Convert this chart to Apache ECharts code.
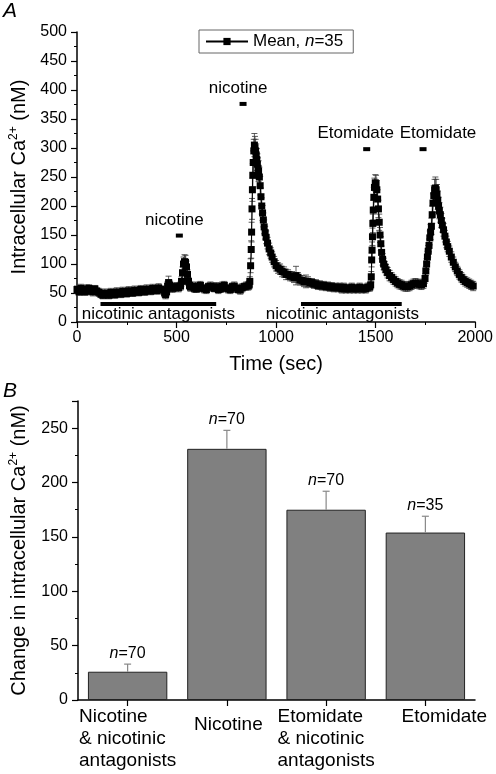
<!DOCTYPE html>
<html><head><meta charset="utf-8">
<script src="https://cdn.jsdelivr.net/npm/echarts@6/dist/echarts.min.js"></script>
<style>html,body{margin:0;padding:0;background:#fff}#c{width:496px;height:774px}</style>
</head><body><div id="c"></div><script>
// ---------- Panel A data (time course, mean ± SEM) ----------
const timeSec = [
  0,10,20,30,40,50,60,70,80,90,100,110,120,130,140,150,160,170,180,190,200,210,220,230,240,250,260,270,280,290,300,310,320,330,340,350,360,370,380,390,400,410,420,430,
  440,445,450,455,460,465,470,480,490,500,510,520,525,530,535,540,545,550,555,560,565,570,
  580,590,600,610,620,630,640,650,660,670,680,690,700,710,720,730,740,750,760,770,780,790,800,810,820,830,840,850,860,
  865,868,872,875,877,879,881,883,885,888,891,894,897,900,903,906,909,912,916,920,924,928,932,936,940,945,950,957,965,973,980,990,1000,
  1010,1020,1030,1040,1050,1060,1070,1080,1090,1100,1110,1120,1130,1140,1150,1160,1170,1180,1190,1200,1210,1220,1230,1240,1250,1260,1270,1280,1290,1300,1310,1320,1330,1340,1350,1360,1370,1380,1390,1400,1410,1420,1430,1440,1450,1460,1470,
  1475,1478,1480,1482,1484,1486,1488,1491,1494,1498,1502,1506,1510,1514,1518,1522,1526,1530,1535,1540,1546,1552,1560,1570,1580,1590,1600,1610,1620,1630,1640,1650,1660,1670,1680,1690,1700,1710,1720,1730,1740,
  1748,1752,1756,1760,1764,1768,1772,1776,1780,1784,1788,1792,1796,1800,1804,1808,1812,1816,1820,1825,1830,1835,1841,1848,1855,1862,1870,1880,1890,1900,1910,1920,1930,1940,1950,1960,1970,1980,1990
];
const meanCa = [
  56,52,58,55,52,57,58,53,52,57,53,51,48,46,50,48,46,51,49,47,52,50,48,53,51,49,54,52,50,55,53,51,56,54,52,57,55,53,58,56,54,59,56,55,
  50,47,52,62,68,64,60,58,60,61,59,62,70,85,100,104,103,95,82,70,63,60,
  62,58,57,62,63,58,57,56,61,62,60,58,61,56,57,62,63,58,57,56,61,62,58,56,55,59,61,62,62,
  64,70,97,125,155,195,228,253,275,295,305,300,295,288,280,272,265,260,250,235,216,200,188,176,164,154,146,136,126,119,112,104,97,
  93,91,87,86,82,82,79,79,76,80,77,72,72,69,70,70,67,68,65,66,63,64,62,63,61,62,60,61,59,60,59,60,57,60,57,58,57,60,57,58,57,60,57,58,57,60,60,
  64,78,107,124,147,170,193,215,232,240,238,228,212,195,172,150,135,120,108,100,95,90,85,80,77,73,70,67,65,64,62,61,61,62,64,66,67,66,65,64,66,
  75,88,100,112,122,132,145,155,165,185,205,218,228,231,228,220,210,200,192,185,175,167,159,148,138,130,122,112,103,95,88,82,77,73,70,68,66,64,62
];
const semCa = [
  6,6,7,6,6,7,6,6,7,6,6,7,6,6,7,6,6,7,6,6,7,6,6,7,6,6,7,6,6,7,6,6,7,6,6,7,6,6,7,6,6,7,6,7,
  7,7,7,8,11,8,7,7,7,7,7,7,8,10,12,12,12,10,8,7,7,7,
  7,7,6,7,7,6,7,7,6,7,7,6,7,7,6,7,7,6,7,7,6,7,7,6,7,7,6,7,7,
  7,8,12,15,17,18,20,20,20,20,20,20,20,19,19,18,18,18,17,16,15,14,13,12,12,11,11,10,10,9,9,9,9,
  9,9,9,9,9,8,8,8,8,16,8,8,8,8,11,8,7,7,7,7,7,7,7,7,7,7,7,7,7,7,7,7,7,7,7,7,7,7,7,7,7,7,7,7,7,7,7,
  7,9,12,14,15,16,17,17,16,14,15,16,16,15,14,13,12,11,10,10,9,9,9,9,8,8,8,8,8,8,8,8,8,8,8,8,8,8,8,8,8,
  8,8,9,10,10,11,12,13,14,15,16,17,18,19,18,17,16,15,14,13,12,12,11,10,10,9,9,9,9,8,8,8,8,8,8,8,8,8,8
];
const stimTimes  = [514, 834, 1455, 1738];
const stimLevels = [149, 376, 298, 298];
const stimNames  = ['nicotine', 'nicotine', 'Etomidate', 'Etomidate'];
const antagStart = [118, 1125];
const antagEnd   = [699, 1631];
const antagLevel = [31, 31];
const antagName  = 'nicotinic antagonists';
const xTicksA = [0, 500, 1000, 1500, 2000];
const yTicksA = [0, 50, 100, 150, 200, 250, 300, 350, 400, 450, 500];

// ---------- Panel B data ----------
const categories = ['Nicotine\n& nicotinic\nantagonists', 'Nicotine', 'Etomidate\n& nicotinic\nantagonists', 'Etomidate'];
const barValues  = [26, 231, 175, 154];
const barErrors  = [7, 17, 17, 15];
const barN       = ['70', '70', '70', '35'];
const yTicksB = [0, 50, 100, 150, 200, 250];

// ---------- styling ----------
const FONT = 'Liberation Sans, Arial, Helvetica, sans-serif';
const stimLabelDx = [-5, -5, -11, 15];
const catShift = [0, 3, 0, 38];

const axisCommon = {
  axisLine: {show: true, lineStyle: {color: '#000', width: 1.5}},
  axisTick: {show: true, inside: false, length: 6, lineStyle: {color: '#000', width: 1.2}},
  minorTick: {show: true, splitNumber: 2, length: 3, lineStyle: {color: '#000', width: 1}},
  splitLine: {show: false}
};
const nameRich = {
  a: {fontSize: 20, fontFamily: FONT, color: '#000'},
  s: {fontSize: 12, fontFamily: FONT, color: '#000', padding: [0, 0, 10, 0]}
};
const plain = v => String(v);

const chart = echarts.init(document.getElementById('c'), null, {renderer: 'canvas'});
const option = {
  animation: false,
  backgroundColor: '#fff',
  textStyle: {fontFamily: FONT},
  graphic: [
    {type: 'text', left: 3, top: 1, style: {text: 'A', font: 'italic 21px ' + FONT, fill: '#000'}},
    {type: 'text', left: 3, top: 381, style: {text: 'B', font: 'italic 21px ' + FONT, fill: '#000'}}
  ],
  legend: {
    data: ['Mean'],
    left: 199, top: 30,
    padding: [3, 10, 3, 6],
    borderColor: '#666', borderWidth: 1,
    itemWidth: 42, itemHeight: 9, itemGap: 5,
    formatter: () => '{a|Mean, }{i|n}{a|=35}',
    textStyle: {
      rich: {
        a: {fontSize: 17, fontFamily: FONT, color: '#000'},
        i: {fontSize: 17, fontFamily: FONT, color: '#000', fontStyle: 'italic'}
      }
    }
  },
  grid: [
    {left: 72, right: 17, top: 32, height: 290},
    {left: 72, right: 21, top: 401, height: 299}
  ],
  xAxis: [
    Object.assign({}, axisCommon, {
      gridIndex: 0, type: 'value', min: xTicksA[0], max: xTicksA[xTicksA.length - 1], interval: xTicksA[1] - xTicksA[0],
      name: 'Time (sec)', nameLocation: 'middle', nameGap: 32,
      nameTextStyle: {fontSize: 20, fontFamily: FONT, color: '#000'},
      axisLabel: {color: '#000', fontSize: 16, fontFamily: FONT, margin: 8, formatter: plain}
    }),
    {
      gridIndex: 1, type: 'category',
      data: categories.map((c, i) => ({value: c, textStyle: {padding: [i === 1 ? 8 : 0, 0, 0, catShift[i]]}})),
      axisLine: {show: true, lineStyle: {color: '#000', width: 1.5}},
      axisTick: {show: true, alignWithLabel: true, length: 6, lineStyle: {color: '#000', width: 1.2}},
      splitLine: {show: false},
      axisLabel: {
        margin: 6, interval: 0,
        formatter: v => v.split('\n').map(l => '{l|' + l + '}').join('\n'),
        rich: {l: {fontSize: 19, lineHeight: 22, fontFamily: FONT, color: '#000', align: 'left'}}
      }
    }
  ],
  yAxis: [
    Object.assign({}, axisCommon, {
      gridIndex: 0, type: 'value', min: yTicksA[0], max: yTicksA[yTicksA.length - 1], interval: yTicksA[1] - yTicksA[0],
      name: '{a|Intracellular Ca}{s|2+}{a| (nM)}', nameLocation: 'middle', nameGap: 47,
      nameTextStyle: {rich: nameRich},
      axisLabel: {color: '#000', fontSize: 16, fontFamily: FONT, margin: 10, formatter: plain}
    }),
    Object.assign({}, axisCommon, {
      gridIndex: 1, type: 'value', min: 0, max: 275, interval: yTicksB[1] - yTicksB[0],
      name: '{a|Change in intracellular Ca}{s|2+}{a| (nM)}', nameLocation: 'middle', nameGap: 48,
      nameTextStyle: {rich: nameRich},
      axisLabel: {color: '#000', fontSize: 16, fontFamily: FONT, margin: 10, showMaxLabel: false, formatter: plain}
    })
  ],
  series: [
    {
      type: 'custom', xAxisIndex: 0, yAxisIndex: 0, silent: true, z: 2,
      data: timeSec.map((t, i) => [t, meanCa[i] - semCa[i], meanCa[i] + semCa[i]]),
      renderItem: (params, api) => {
        const lo = api.coord([api.value(0), api.value(1)]);
        const hi = api.coord([api.value(0), api.value(2)]);
        const st = {stroke: '#333', lineWidth: 0.8};
        return {type: 'group', children: [
          {type: 'line', shape: {x1: lo[0], y1: lo[1], x2: hi[0], y2: hi[1]}, style: st},
          {type: 'line', shape: {x1: lo[0] - 3, y1: lo[1], x2: lo[0] + 3, y2: lo[1]}, style: st},
          {type: 'line', shape: {x1: hi[0] - 3, y1: hi[1], x2: hi[0] + 3, y2: hi[1]}, style: st}
        ]};
      }
    },
    {
      name: 'Mean', type: 'line', xAxisIndex: 0, yAxisIndex: 0, z: 3,
      data: timeSec.map((t, i) => [t, meanCa[i]]),
      symbol: 'rect', symbolSize: 7, showAllSymbol: true,
      itemStyle: {color: '#000', opacity: 1},
      lineStyle: {color: '#000', width: 1}
    },
    {
      type: 'scatter', xAxisIndex: 0, yAxisIndex: 0, z: 4, silent: true,
      symbol: 'rect', symbolSize: [7, 4],
      itemStyle: {color: '#000', opacity: 1},
      data: stimTimes.map((t, i) => ({
        value: [t, stimLevels[i]],
        label: {show: true, formatter: stimNames[i], position: 'top', distance: 5, offset: [stimLabelDx[i], 0],
                fontSize: 17, fontFamily: FONT, color: '#000', opacity: 1}
      }))
    },
    {
      type: 'custom', xAxisIndex: 0, yAxisIndex: 0, z: 4, silent: true,
      data: antagStart.map((s, i) => [s, antagEnd[i], antagLevel[i]]),
      renderItem: (params, api) => {
        const a = api.coord([api.value(0), api.value(2)]);
        const b = api.coord([api.value(1), api.value(2)]);
        const mid = params.dataIndex === 0 ? (a[0] + b[0]) / 2 : (a[0] + b[0]) / 2 - 9;
        return {type: 'group', children: [
          {type: 'line', shape: {x1: a[0], y1: a[1], x2: b[0], y2: b[1]}, style: {stroke: '#000', lineWidth: 4}},
          {type: 'text', x: mid, y: a[1] + 10, style: {text: antagName, font: '17px ' + FONT, fill: '#000', align: 'center', verticalAlign: 'middle'}}
        ]};
      }
    },
    {
      type: 'bar', xAxisIndex: 1, yAxisIndex: 1, barWidth: '80%', z: 2,
      data: barValues,
      itemStyle: {color: '#808080', borderColor: '#222', borderWidth: 1}
    },
    {
      type: 'custom', xAxisIndex: 1, yAxisIndex: 1, z: 3, silent: true,
      data: barValues.map((v, i) => [i, v, v + barErrors[i]]),
      renderItem: (params, api) => {
        const base = api.coord([api.value(0), api.value(1)]);
        const top = api.coord([api.value(0), api.value(2)]);
        const st = {stroke: '#888', lineWidth: 1.2};
        return {type: 'group', children: [
          {type: 'line', shape: {x1: top[0], y1: base[1], x2: top[0], y2: top[1]}, style: st},
          {type: 'line', shape: {x1: top[0] - 3.5, y1: top[1], x2: top[0] + 3.5, y2: top[1]}, style: st},
          {type: 'text', x: top[0], y: top[1] - 3, style: {
            text: '{i|n}{a|=' + barN[params.dataIndex] + '}', align: 'center', verticalAlign: 'bottom',
            rich: {
              i: {fontSize: 16, fontFamily: FONT, fill: '#000', color: '#000', fontStyle: 'italic'},
              a: {fontSize: 16, fontFamily: FONT, fill: '#000', color: '#000'}
            }
          }}
        ]};
      }
    }
  ]
};
chart.setOption(option);
</script></body></html>
